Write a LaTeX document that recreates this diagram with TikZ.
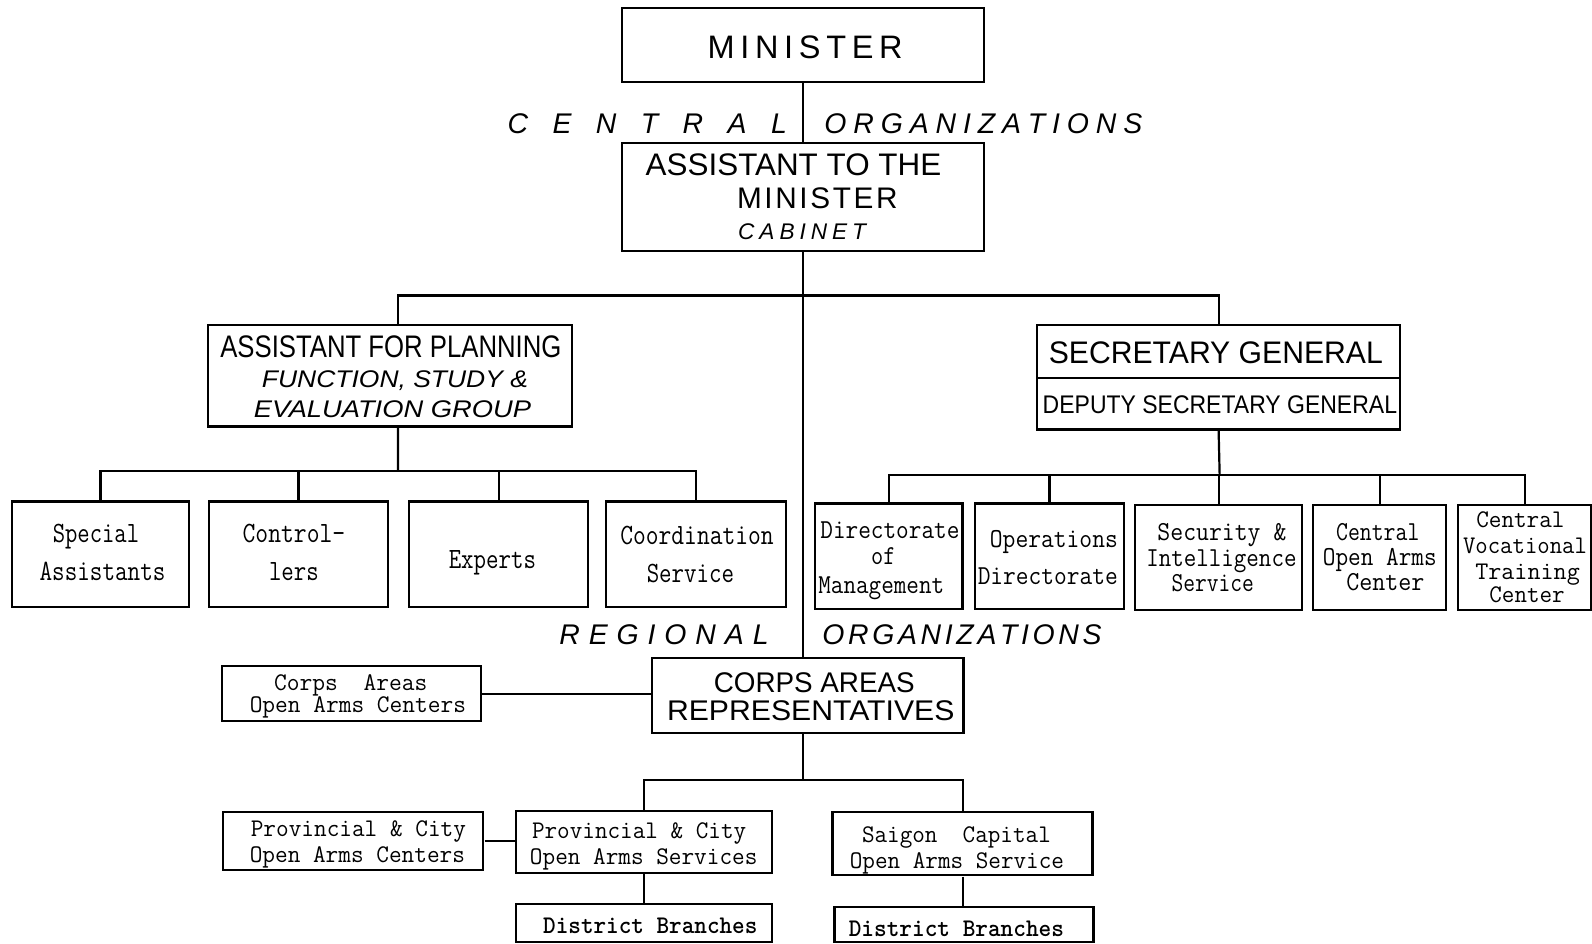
\documentclass[tikz,border=0pt]{standalone}
\usepackage{fontspec}
\setmainfont{Liberation Sans}
\usepackage{graphicx}
\newcommand\fx[2]{\resizebox{#1}{\height}{#2}}
\newcommand\sfs[1]{\fontsize{#1}{#1}\selectfont}
\newcommand\mfs[1]{\ttfamily\fontsize{#1}{#1}\selectfont}
\newcommand\Bx[5]{\node[bx,minimum width={#4-#2},minimum height={#5-#3}] (#1) at ({(#2+#4)/2},{(#3+#5)/2}) {};}
\newcommand\Tl[5]{\node[tl] (#1) at (#2,#3) {\fx{#4pt}{#5}};}
\newcommand\Sp[5]{\node[tl] (#1) at (#2,#3) {\hbox to #4pt{#5}};}
\newcommand\MA{\mfs{29}}
\newcommand\MS{\mfs{27}}
\newcommand\MV{\mfs{25}}
\newcommand\MB{\mfs{25}}
\begin{document}
\begin{tikzpicture}[x=1pt,y=-1pt,scale=1.0153,transform shape,
  bx/.style={draw,line width=2.2pt,inner sep=0pt},
  tl/.style={anchor=base,inner sep=0pt},
  ln/.style={line width=2.2pt}]
\useasboundingbox (0,0) rectangle (1568,929);
\fill[white] (0,0) rectangle (1568,929);
% boxes
\Bx{min}{613}{8}{969}{81}
\Bx{atm}{613}{141}{969}{247}
\Bx{afp}{205}{320}{563}{420}
\Bx{sg}{1021}{320}{1379}{372}
\Bx{dsg}{1021}{372}{1379}{423}
\Bx{sa}{12}{494}{186}{598}
\Bx{ctl}{206}{494}{382}{598}
\Bx{exp}{403}{494}{579}{598}
\Bx{coo}{597}{494}{774}{598}
\Bx{dom}{803}{496}{948}{600}
\Bx{ops}{960}{496}{1107}{600}
\Bx{sis}{1118}{497}{1282}{601}
\Bx{coa}{1293}{497}{1424}{601}
\Bx{cvt}{1436}{497}{1567}{601}
\Bx{car}{642}{648}{949}{722}
\Bx{caoc}{219}{656}{474}{710}
\Bx{pcoc}{220}{800}{476}{857}
\Bx{pcos}{508}{799}{760}{860}
\Bx{scos}{820}{800}{1076}{862}
\Bx{dba}{508}{890}{760}{928}
\Bx{dbb}{822}{893}{1077}{928}
% connectors
\coordinate (bus) at (791,291);
\coordinate (pb) at (392,464);
\coordinate (sb) at (1201,468);
\coordinate (cb) at (791,768);
\draw[ln] (min.south) -- (atm.north);
\draw[ln] (atm.south) -- (atm.south |- car.north);
\draw[ln] ([xshift=8pt]afp.north) |- (bus) -| (sg.north);
\draw[ln] ([xshift=8pt]afp.south) -- (pb);
\foreach \c in {sa,ctl,exp,coo} \draw[ln] (pb) -| (\c.north);
\draw[ln] (dsg.south) -- (sb);
\foreach \c in {dom,ops,sis,coa,cvt} \draw[ln] (sb) -| (\c.north);
\draw[ln] (caoc.east) -- (caoc.east -| car.west);
\draw[ln] (cb |- car.south) -- (cb);
\draw[ln] (cb) -| (pcos.north);
\draw[ln] (cb) -| (scos.north);
\draw[ln] (pcoc.east) -- (pcoc.east -| pcos.west);
\draw[ln] (pcos.south) -- (dba.north);
\draw[ln] (scos.south) -- (scos.south |- dbb.north);
% sans texts
\Sp{tmin}{793}{58}{192}{\sfs{32}M\hfill I\hfill N\hfill I\hfill S\hfill T\hfill E\hfill R}
\Sp{tcen}{637.5}{131}{275}{\sfs{28}\itshape C\hfill E\hfill N\hfill T\hfill R\hfill A\hfill L}
\Sp{torga}{968.5}{131}{313}{\sfs{28}\itshape O\hfill R\hfill G\hfill A\hfill N\hfill I\hfill Z\hfill A\hfill T\hfill I\hfill O\hfill N\hfill S}
\Tl{tatm}{781.5}{173}{291}{\sfs{30.7}ASSISTANT TO THE}
\Sp{tatmb}{805}{205}{158}{\sfs{29.3}M\hfill I\hfill N\hfill I\hfill S\hfill T\hfill E\hfill R}
\Sp{tcab}{790}{236}{126}{\sfs{22.3}\itshape C\hfill A\hfill B\hfill I\hfill N\hfill E\hfill T}
\Tl{tafp}{385}{352}{336}{\sfs{30.7}ASSISTANT FOR PLANNING}
\Tl{tfun}{389}{382}{262}{\sfs{23.7}\itshape FUNCTION, STUDY \&}
\Tl{teva}{386.5}{411}{273}{\sfs{23.7}\itshape EVALUATION GROUP}
\Tl{tsg}{1197.5}{358}{329}{\sfs{30.7}SECRETARY GENERAL}
\Tl{tdsg}{1201.5}{407}{349}{\sfs{25.1}DEPUTY SECRETARY GENERAL}
\Sp{treg}{654}{635}{206}{\sfs{28}\itshape R\hfill E\hfill G\hfill I\hfill O\hfill N\hfill A\hfill L}
\Sp{torgb}{947.5}{635}{275}{\sfs{28}\itshape O\hfill R\hfill G\hfill A\hfill N\hfill I\hfill Z\hfill A\hfill T\hfill I\hfill O\hfill N\hfill S}
\Tl{tcar}{802}{682}{198}{\sfs{28}CORPS AREAS}
\Tl{tcarb}{798.5}{710}{283}{\sfs{28}REPRESENTATIVES}
% mono texts
\Tl{m1}{94.5}{534}{85}{\MA Special}
\Tl{m2}{101}{572}{124}{\MA Assistants}
\Tl{m3}{289.5}{534}{101}{\MA Control-}
\Tl{m4}{289.5}{572}{49}{\MA lers}
\Tl{m5}{485}{560}{86}{\MA Experts}
\Tl{m6}{686.5}{536}{151}{\MA Coordination}
\Tl{m7}{680}{574}{86}{\MA Service}
\Tl{m8}{876.5}{530}{137}{\MS Directorate}
\Tl{m9}{870}{556}{24}{\MS of}
\Tl{m10}{868}{585}{124}{\MS Management}
\Tl{m11}{1038}{539}{126}{\MS Operations}
\Tl{m12}{1032}{576}{138}{\MS Directorate}
\Tl{m13}{1203.5}{532}{127}{\MS Security \&}
\Tl{m14}{1203}{558}{148}{\MS Intelligence}
\Tl{m15}{1194.5}{583}{81}{\MS Service}
\Tl{m16}{1357}{532}{82}{\MS Central}
\Tl{m17}{1359}{557}{112}{\MS Open Arms}
\Tl{m18}{1364.5}{582}{77}{\MS Center}
\Tl{m19}{1497.5}{520}{87}{\MV Central}
\Tl{m20}{1502}{545}{122}{\MV Vocational}
\Tl{m21}{1504.5}{571}{103}{\MV Training}
\Tl{m22}{1504}{593}{74}{\MV Center}
\Tl{n1}{345.5}{680}{151}{\MB Corps\ \ Areas}
\Tl{n2}{352.5}{702}{213}{\MB Open Arms Centers}
\Tl{n3}{353}{824}{212}{\MB Provincial \& City}
\Tl{n4}{352}{849}{212}{\MB Open Arms Centers}
\Tl{n5}{629.5}{826}{211}{\MB Provincial \& City}
\Tl{n6}{634}{851}{224}{\MB Open Arms Services}
\Tl{n7}{942}{830}{186}{\MB Saigon\ \ Capital}
\Tl{n8}{942.5}{855}{211}{\MB Open Arms Service}
\Tl{n9}{640.5}{919}{211}{\MB\bfseries District Branches}
\Tl{n10}{942}{922}{212}{\MB\bfseries District Branches}
\end{tikzpicture}
\end{document}
